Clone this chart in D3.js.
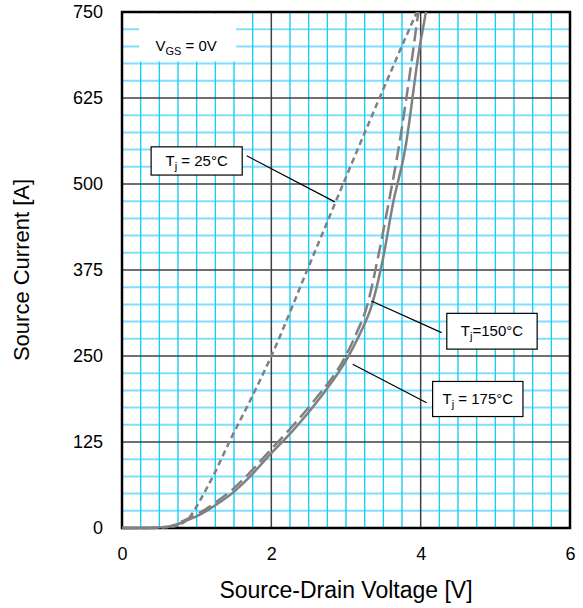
<!DOCTYPE html>
<html>
<head>
<meta charset="utf-8">
<script src="https://cdn.jsdelivr.net/npm/d3@7"></script>
<style>
    body { margin: 0; background: #fff; }
    text { font-family: "Liberation Sans", Arial, sans-serif; fill: #000; }
</style>
</head>
<body>
<div id="chart1"></div>
<script>
// data kurva (tegangan [V], arus [A])
var v25 = [0, 0.3, 0.6, 0.75, 0.9, 1.07, 1.25, 1.45, 1.72, 2.0, 2.5, 3.0, 3.5, 3.95, 4.0];
var i25 = [0, 0, 1, 4, 15, 45, 82, 128, 186, 250, 380, 510, 638, 750, 762];

var v150 = [0, 0.3, 0.62, 0.87, 1.07, 1.25, 1.47, 1.69, 1.96, 2.3, 2.58, 2.99, 3.14, 3.28, 3.43, 3.57, 3.70, 3.90, 3.97, 4.0];
var i150 = [0, 0, 2, 13, 24, 37, 55, 78, 110, 150, 186, 249, 283, 322, 394, 472, 549, 695, 750, 770];

var v175 = [0, 0.3, 0.62, 0.87, 1.07, 1.25, 1.47, 1.69, 1.96, 2.3, 2.63, 3.03, 3.19, 3.34, 3.50, 3.63, 3.79, 3.98, 4.07, 4.1];
var i175 = [0, 0, 2, 11, 21, 33, 50, 72, 104, 143, 186, 249, 283, 322, 394, 472, 549, 695, 750, 770];

// label sumbu
var xTicks = [0, 2, 4, 6];
var yTicks = [0, 125, 250, 375, 500, 625, 750];

// tentukan ukuran grafik
var margin = { top: 12, right: 13, bottom: 80, left: 122 };
var width = 583 - margin.left - margin.right;
var height = 608 - margin.top - margin.bottom;

var x = d3.scaleLinear().domain([0, 6]).range([0, width]);
var y = d3.scaleLinear().domain([0, 750]).range([height, 0]);

var svg = d3.select("#chart1").append("svg")
    .attr("width", 583)
    .attr("height", 608)
    .append("g")
    .attr("transform", "translate(" + margin.left + "," + margin.top + ")");

// grid kecil
svg.selectAll(".hminor")
    .data(d3.range(25, 750, 25).filter(function (d) { return d % 125 != 0; }))
    .enter().append("line")
    .attr("x1", 0).attr("x2", width)
    .attr("y1", function (d) { return y(d); })
    .attr("y2", function (d) { return y(d); })
    .attr("stroke", "#7fdfff")
    .attr("stroke-width", 2);

svg.selectAll(".vminor")
    .data(d3.range(0.25, 6, 0.25).filter(function (d) { return d % 2 != 0; }))
    .enter().append("line")
    .attr("y1", 0).attr("y2", height)
    .attr("x1", function (d) { return x(d); })
    .attr("x2", function (d) { return x(d); })
    .attr("stroke", "#1ccdf5")
    .attr("stroke-width", 1.4);

// grid utama
svg.selectAll(".hmajor")
    .data([125, 250, 375, 500, 625])
    .enter().append("line")
    .attr("x1", 0).attr("x2", width)
    .attr("y1", function (d) { return y(d); })
    .attr("y2", function (d) { return y(d); })
    .attr("stroke", "#404040")
    .attr("stroke-width", 1.5);

svg.selectAll(".vmajor")
    .data([2, 4])
    .enter().append("line")
    .attr("y1", 0).attr("y2", height)
    .attr("x1", function (d) { return x(d); })
    .attr("x2", function (d) { return x(d); })
    .attr("stroke", "#404040")
    .attr("stroke-width", 1.5);

// kotak VGS
svg.append("rect")
    .attr("x", x(0.23)).attr("y", y(748))
    .attr("width", x(1.53) - x(0.23))
    .attr("height", y(678) - y(748))
    .attr("fill", "#fff");

var vgs = svg.append("text")
    .attr("x", x(0.86)).attr("y", y(693))
    .attr("text-anchor", "middle")
    .style("font-size", "15px");
vgs.append("tspan").text("V");
vgs.append("tspan").attr("dy", 4).style("font-size", "11px").text("GS");
vgs.append("tspan").attr("dy", -4).text(" = 0V");

// bingkai
svg.append("rect")
    .attr("width", width).attr("height", height)
    .attr("fill", "none").attr("stroke", "#000").attr("stroke-width", 2.5);

// kurva
svg.append("clipPath").attr("id", "clip")
    .append("rect").attr("width", width).attr("height", height + 3);

var series = [
    { v: v175, i: i175, dash: null },
    { v: v150, i: i150, dash: "14,6" },
    { v: v25, i: i25, dash: "6,4" }
];

var line = d3.line()
    .x(function (d) { return x(d[0]); })
    .y(function (d) { return y(d[1]); })
    .curve(d3.curveMonotoneX);

series.forEach(function (s) {
    var pts = s.v.map(function (d, k) { return [d, s.i[k]]; });
    svg.append("path")
        .datum(pts)
        .attr("clip-path", "url(#clip)")
        .attr("fill", "none")
        .attr("stroke", "#808080")
        .attr("stroke-width", 2.5)
        .attr("stroke-dasharray", s.dash)
        .attr("d", line);
});

// label suhu
var labels = [
    { t: "25°C", sp: true, box: [0.39, 554, 1.61, 513], from: [1.67, 541], to: [2.85, 474] },
    { t: "150°C", sp: false, box: [4.35, 312, 5.56, 260], from: [4.28, 284], to: [3.34, 330] },
    { t: "175°C", sp: true, box: [4.16, 213, 5.37, 162], from: [4.08, 182], to: [3.09, 238] }
];

labels.forEach(function (l) {
    svg.append("line")
        .attr("x1", x(l.from[0])).attr("y1", y(l.from[1]))
        .attr("x2", x(l.to[0])).attr("y2", y(l.to[1]))
        .attr("stroke", "#000").attr("stroke-width", 1.2);
    svg.append("rect")
        .attr("x", x(l.box[0])).attr("y", y(l.box[1]))
        .attr("width", x(l.box[2]) - x(l.box[0]))
        .attr("height", y(l.box[3]) - y(l.box[1]))
        .attr("fill", "#fff").attr("stroke", "#000").attr("stroke-width", 1.2);
    var t = svg.append("text")
        .attr("x", (x(l.box[0]) + x(l.box[2])) / 2)
        .attr("y", (y(l.box[1]) + y(l.box[3])) / 2 + 5)
        .attr("text-anchor", "middle")
        .style("font-size", "15px");
    t.append("tspan").text("T");
    t.append("tspan").attr("dy", 4).style("font-size", "11px").text("j");
    t.append("tspan").attr("dy", -4).text((l.sp ? " = " : "=") + l.t);
});

// sumbu x dan y
svg.append("g")
    .attr("transform", "translate(0," + height + ")")
    .call(d3.axisBottom(x).tickValues(xTicks).tickFormat(d3.format("d")).tickSize(0).tickPadding(19))
    .call(function (g) { g.select(".domain").remove(); })
    .selectAll("text").style("font-size", "18px").style("font-family", "Liberation Sans, Arial");

svg.append("g")
    .call(d3.axisLeft(y).tickValues(yTicks).tickSize(0).tickPadding(19))
    .call(function (g) { g.select(".domain").remove(); })
    .selectAll("text").style("font-size", "18px").style("font-family", "Liberation Sans, Arial");

svg.append("text")
    .attr("x", width / 2)
    .attr("y", height + 70)
    .attr("text-anchor", "middle")
    .style("font-size", "23px")
    .text("Source-Drain Voltage [V]");

svg.append("text")
    .attr("transform", "rotate(-90)")
    .attr("x", -height / 2)
    .attr("y", -93)
    .attr("text-anchor", "middle")
    .style("font-size", "22px")
    .text("Source Current [A]");
</script>
</body>
</html>
